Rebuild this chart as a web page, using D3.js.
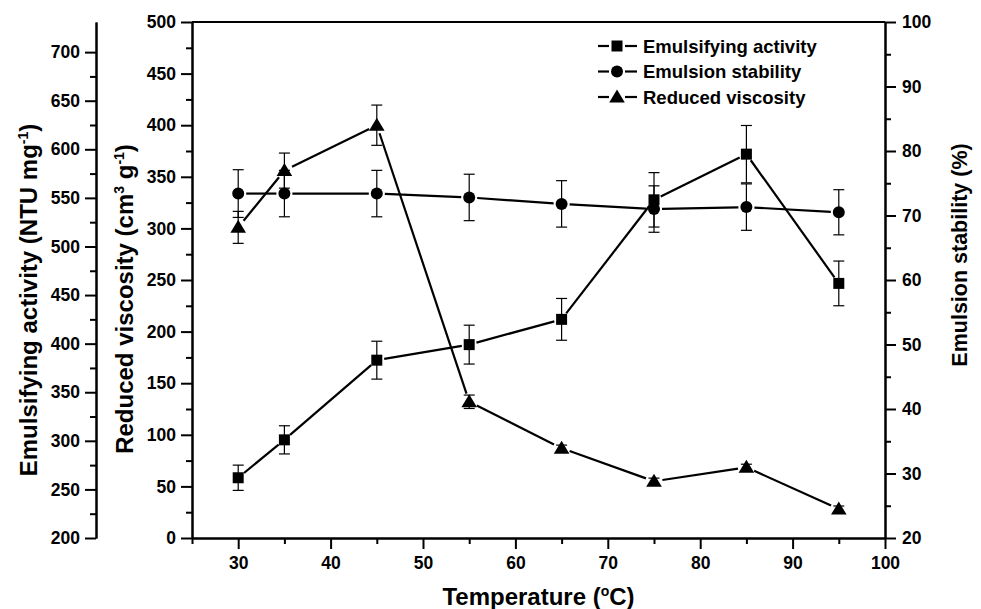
<!DOCTYPE html>
<html><head><meta charset="utf-8">
<script src="https://cdn.jsdelivr.net/npm/d3@7"></script>
<style>body{margin:0;background:#fff}svg{display:block}text{font-family:"Liberation Sans",Arial,sans-serif;font-weight:bold;fill:#000}</style>
</head><body>
<svg id="c" width="981" height="609"></svg>
<script>
// ---- data ----
const temperatures = [30, 35, 45, 55, 65, 75, 85, 95];
const emulsifyingActivity = [262, 301, 383, 399, 425, 548, 595, 462];
const emulsifyingActivityErr = [13, 14.5, 19.5, 20, 21.5, 28, 29.5, 23];
const emulsionStability = [73.4, 73.4, 73.4, 72.8, 71.8, 71.0, 71.3, 70.5];
const emulsionStabilityErr = [3.7, 3.6, 3.6, 3.6, 3.6, 3.6, 3.6, 3.5];
const reducedViscosity = [301, 356, 400, 132, 87, 55, 68.5, 28];
const reducedViscosityErr = [15.5, 17, 19.5, 6.5, 3, 3, 3, 3];
const xMajorTicks = [30, 40, 50, 60, 70, 80, 90, 100];
const xMinorTicks = [25, 35, 45, 55, 65, 75, 85, 95];
const eaMajorTicks = [200, 250, 300, 350, 400, 450, 500, 550, 600, 650, 700];
const eaMinorTicks = [225, 275, 325, 375, 425, 475, 525, 575, 625, 675];
const rvMajorTicks = [0, 50, 100, 150, 200, 250, 300, 350, 400, 450, 500];
const rvMinorTicks = [25, 75, 125, 175, 225, 275, 325, 375, 425, 475];
const esMajorTicks = [20, 30, 40, 50, 60, 70, 80, 90, 100];
const esMinorTicks = [25, 35, 45, 55, 65, 75, 85, 95];
const legendLabels = ["Emulsifying activity", "Emulsion stability", "Reduced viscosity"];

const svg = d3.select("#c");
const L = 192, R = 885, T = 22, B = 538;
const x = d3.scaleLinear([25, 100], [L, R]);
const yEA = d3.scaleLinear([200, 731], [B, T]);
const yRV = d3.scaleLinear([0, 500], [B, T]);
const yES = d3.scaleLinear([20, 100], [B, T]);

const FS = 17.5;
function styleAxis(g) {
  g.selectAll("path.domain").attr("stroke", "#000").attr("stroke-width", 2);
  g.selectAll(".tick line").attr("stroke", "#000").attr("stroke-width", 2);
  g.selectAll(".tick text").style("font-size", FS + "px").style("font-family", '"Liberation Sans",Arial,sans-serif').style("font-weight", "bold").attr("fill", "#000");
}
function drawAxis(axisFn, scale, major, minor, transform, pad) {
  const gMinor = svg.append("g").attr("transform", transform)
    .call(axisFn(scale).tickValues(minor).tickFormat("").tickSize(6).tickSizeOuter(0));
  styleAxis(gMinor);
  const gMajor = svg.append("g").attr("transform", transform)
    .call(axisFn(scale).tickValues(major).tickFormat(d3.format("d")).tickSize(11).tickSizeOuter(0).tickPadding(pad));
  styleAxis(gMajor);
  return gMajor;
}
// top border
svg.append("line").attr("x1", L).attr("x2", R).attr("y1", T).attr("y2", T).attr("stroke", "#000").attr("stroke-width", 2);
drawAxis(d3.axisBottom, x, xMajorTicks, xMinorTicks, `translate(0,${B})`, 4).selectAll(".tick text").attr("dy", "0.9em");
drawAxis(d3.axisLeft, yRV, rvMajorTicks, rvMinorTicks, `translate(${L},0)`, 5);
drawAxis(d3.axisLeft, yEA, eaMajorTicks, eaMinorTicks, `translate(96,0)`, 5);
drawAxis(d3.axisRight, yES, esMajorTicks, esMinorTicks, `translate(${R},0)`, 6);

// axis titles
const xt = svg.append("text").attr("x", (L + R) / 2).attr("y", 605).attr("text-anchor", "middle").style("font-size", "24px");
xt.append("tspan").text("Temperature (");
xt.append("tspan").text("o").attr("dy", -9).style("font-size", "14px");
xt.append("tspan").text("C)").attr("dy", 9);

const t1 = svg.append("text").attr("transform", "translate(37,300) rotate(-90)").attr("text-anchor", "middle").style("font-size", "24px");
t1.append("tspan").text("Emulsifying activity (NTU mg");
t1.append("tspan").text("-1").attr("dy", -9).style("font-size", "14px");
t1.append("tspan").text(")").attr("dy", 9);

const t2 = svg.append("text").attr("transform", "translate(133,299) rotate(-90)").attr("text-anchor", "middle").style("font-size", "24px");
t2.append("tspan").text("Reduced viscosity (cm");
t2.append("tspan").text("3").attr("dy", -9).style("font-size", "14px");
t2.append("tspan").text(" g").attr("dy", 9);
t2.append("tspan").text("-1").attr("dy", -9).style("font-size", "14px");
t2.append("tspan").text(")").attr("dy", 9);

svg.append("text").attr("transform", "translate(967,255) rotate(-90)").attr("text-anchor", "middle").style("font-size", "21.5px").text("Emulsion stability (%)");

// markers
function markerPath(type, cx, cy) {
  if (type === "square") return `M${cx-5.5},${cy-5.5}h11v11h-11Z`;
  if (type === "circle") return `M${cx-6},${cy}a6,6 0 1,0 12,0a6,6 0 1,0 -12,0Z`;
  return `M${cx},${cy-7.5}L${cx+7.8},${cy+5.5}L${cx-7.8},${cy+5.5}Z`;
}
const series = [
  {vals: emulsifyingActivity, err: emulsifyingActivityErr, y: yEA, type: "square", gap: 7.5},
  {vals: emulsionStability, err: emulsionStabilityErr, y: yES, type: "circle", gap: 8},
  {vals: reducedViscosity, err: reducedViscosityErr, y: yRV, type: "triangle", gap: 8.5}
];
// lines with gaps around symbols
series.forEach(s => {
  const pts = temperatures.map((t, i) => [x(t), s.y(s.vals[i])]);
  for (let i = 0; i < pts.length - 1; i++) {
    const [x1, y1] = pts[i], [x2, y2] = pts[i + 1];
    const d = Math.hypot(x2 - x1, y2 - y1);
    if (d <= 2 * s.gap) continue;
    const ux = (x2 - x1) / d, uy = (y2 - y1) / d;
    svg.append("line").attr("x1", x1 + ux * s.gap).attr("y1", y1 + uy * s.gap)
      .attr("x2", x2 - ux * s.gap).attr("y2", y2 - uy * s.gap)
      .attr("stroke", "#000").attr("stroke-width", 2.2);
  }
});
// error bars
series.forEach(s => {
  temperatures.forEach((t, i) => {
    const cx = x(t), yt = s.y(s.vals[i] + s.err[i]), yb = s.y(s.vals[i] - s.err[i]);
    const g = svg.append("g").attr("stroke", "#000").attr("stroke-width", 1.2);
    g.append("line").attr("x1", cx).attr("x2", cx).attr("y1", yt).attr("y2", yb);
    g.append("line").attr("x1", cx - 5.5).attr("x2", cx + 5.5).attr("y1", yt).attr("y2", yt);
    g.append("line").attr("x1", cx - 5.5).attr("x2", cx + 5.5).attr("y1", yb).attr("y2", yb);
  });
});
// symbols
series.forEach(s => {
  temperatures.forEach((t, i) => {
    svg.append("path").attr("d", markerPath(s.type, x(t), s.y(s.vals[i]))).attr("fill", "#000");
  });
});

// legend
const legY = [46, 71.5, 97];
series.forEach((s, i) => {
  const y0 = legY[i];
  svg.append("line").attr("x1", 598).attr("x2", 609).attr("y1", y0).attr("y2", y0).attr("stroke", "#000").attr("stroke-width", 2.2);
  svg.append("line").attr("x1", 625).attr("x2", 637).attr("y1", y0).attr("y2", y0).attr("stroke", "#000").attr("stroke-width", 2.2);
  svg.append("path").attr("d", markerPath(s.type, 617, y0)).attr("fill", "#000");
  svg.append("text").attr("x", 643).attr("y", y0).attr("dy", "0.36em").style("font-size", "18.5px").text(legendLabels[i]);
});
</script>
</body></html>
